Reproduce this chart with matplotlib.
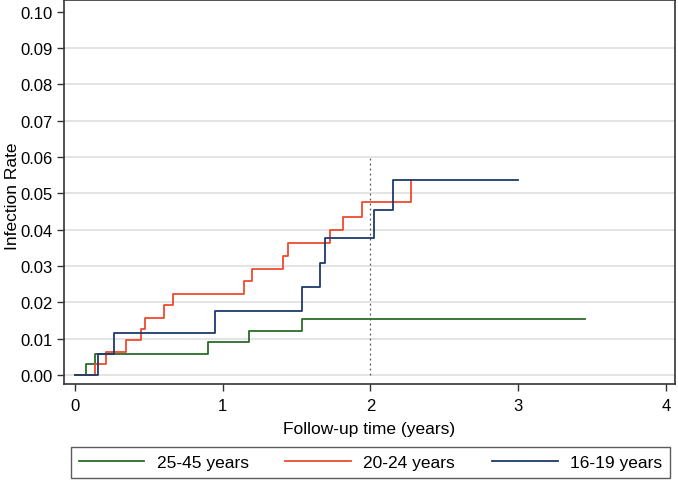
import matplotlib
matplotlib.use("Agg")
import matplotlib.pyplot as plt
from matplotlib.lines import Line2D

plt.rcParams['font.family'] = ['Liberation Sans', 'DejaVu Sans']

# Data (Kaplan-Meier style cumulative infection rate)
t_2545 = [0.0, 0.074, 0.135, 0.90, 1.175, 1.54, 3.45]
r_2545 = [0.0, 0.0029, 0.0058, 0.0091, 0.0122, 0.0153, 0.0153]

t_2024 = [0.0, 0.133, 0.207, 0.344, 0.45, 0.474, 0.605, 0.661, 1.146, 1.198,
          1.405, 1.44, 1.724, 1.816, 1.944, 2.272]
r_2024 = [0.0, 0.0031, 0.0063, 0.0095, 0.0126, 0.0158, 0.0192, 0.0223, 0.0258,
          0.0292, 0.0327, 0.0362, 0.0399, 0.0435, 0.0475, 0.0537]

t_1619 = [0.0, 0.153, 0.265, 0.949, 1.54, 1.661, 1.693, 2.025, 2.151, 3.0]
r_1619 = [0.0, 0.0059, 0.0115, 0.0176, 0.0241, 0.0308, 0.0377, 0.0454, 0.0537, 0.0537]

labels = ['25-45 years', '20-24 years', '16-19 years']
colors = ['#2a6b2a', '#f04a2e', '#1c3a6b']

x_ticks = [0, 1, 2, 3, 4]
y_ticks = [0.00, 0.01, 0.02, 0.03, 0.04, 0.05, 0.06, 0.07, 0.08, 0.09, 0.10]
grid_vals = y_ticks[:-1]
ref_time = 2.0
ref_top = 0.0605

fig = plt.figure(figsize=(6.78, 4.81), dpi=100)
ax = fig.add_axes([64/678, 1-385/481, (675-64)/678, (385-1)/481])

for g in grid_vals:
    ax.axhline(g, color='#dcdcdc', lw=1.1, zorder=0)

ax.plot([ref_time, ref_time], [0, ref_top], color='#555555', lw=0.9,
        linestyle=(0, (1.5, 2.5)), zorder=1)

series = [(t_2545, r_2545), (t_2024, r_2024), (t_1619, r_1619)]
for (t, r), c, lab in zip(series, colors, labels):
    ax.step(t, r, where='post', color=c, lw=1.3, label=lab, zorder=2)

ax.set_xlim(-0.0745, 4.062)
ax.set_ylim(-0.00248, 0.1032)
ax.set_xticks(x_ticks)
ax.set_xticklabels([str(v) for v in x_ticks])
ax.set_yticks(y_ticks)
ax.set_yticklabels([f'{v:.2f}' for v in y_ticks])
ax.tick_params(axis='both', direction='out', length=5, width=1, color='#333333',
               labelsize=12, pad=3)
ax.tick_params(axis='x', pad=5)
for s in ax.spines.values():
    s.set_color('#333333')
    s.set_linewidth(1.2)

ax.set_xlabel('Follow-up time (years)', fontsize=12.5, labelpad=6)
fig.text(13/678, 1 - 196/481, 'Infection Rate', rotation=90, ha='center',
         va='center', fontsize=12.5)

handles = [Line2D([0], [0], color=c, lw=1.3) for c in colors]
leg = fig.legend(handles, labels, loc='lower left', ncol=3, mode='expand',
                 bbox_to_anchor=(70.7/678, 2/481, (670-70.7)/678, 33/481),
                 fontsize=12.5, handlelength=3.8, handletextpad=0.7,
                 frameon=True, fancybox=False, borderaxespad=0, borderpad=0.45)
leg.get_frame().set_edgecolor('#333333')
leg.get_frame().set_linewidth(1.0)

fig.savefig('out.png', dpi=100)
